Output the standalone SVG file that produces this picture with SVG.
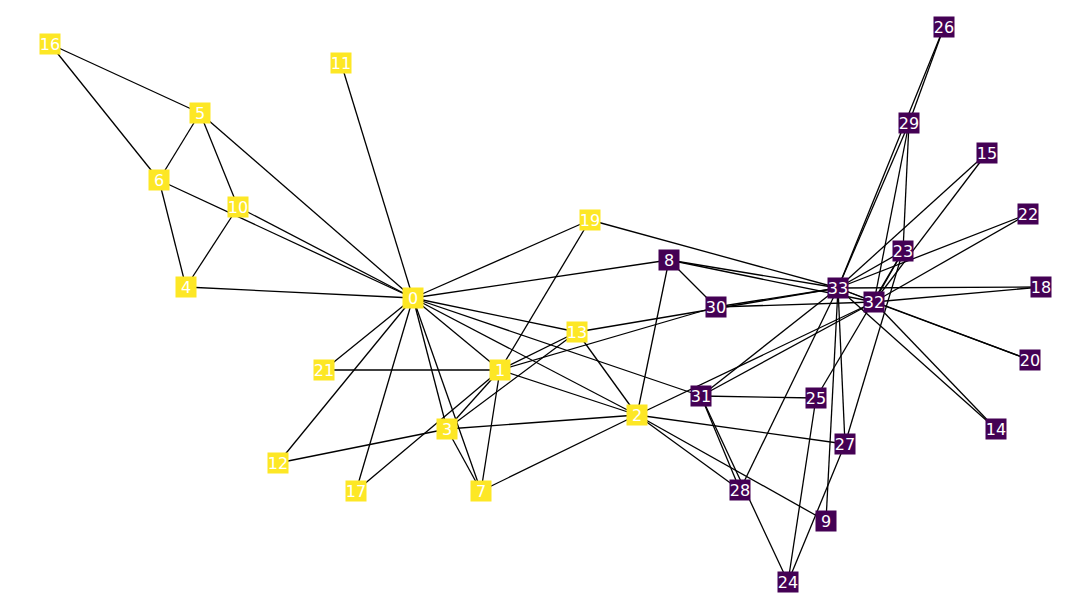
<svg xmlns="http://www.w3.org/2000/svg" width="1090" height="610" viewBox="0 0 1090 610">
<style>
.e line{stroke:#000;stroke-width:1.3}
text{font-family:"DejaVu Sans",sans-serif;font-size:16px;fill:#fff;text-anchor:middle}
</style>
<rect width="1090" height="610" fill="#fff"/>
<g class="e">
<line x1="413" y1="298" x2="500" y2="370"/>
<line x1="413" y1="298" x2="637" y2="415"/>
<line x1="413" y1="298" x2="447" y2="429"/>
<line x1="413" y1="298" x2="186" y2="287"/>
<line x1="413" y1="298" x2="200" y2="113"/>
<line x1="413" y1="298" x2="159" y2="180"/>
<line x1="413" y1="298" x2="481" y2="491"/>
<line x1="413" y1="298" x2="669" y2="260"/>
<line x1="413" y1="298" x2="238" y2="207"/>
<line x1="413" y1="298" x2="341" y2="63"/>
<line x1="413" y1="298" x2="278" y2="463"/>
<line x1="413" y1="298" x2="577" y2="332"/>
<line x1="413" y1="298" x2="356" y2="491"/>
<line x1="413" y1="298" x2="590" y2="220"/>
<line x1="413" y1="298" x2="324" y2="370"/>
<line x1="413" y1="298" x2="701" y2="396"/>
<line x1="500" y1="370" x2="637" y2="415"/>
<line x1="500" y1="370" x2="447" y2="429"/>
<line x1="500" y1="370" x2="481" y2="491"/>
<line x1="500" y1="370" x2="577" y2="332"/>
<line x1="500" y1="370" x2="356" y2="491"/>
<line x1="500" y1="370" x2="590" y2="220"/>
<line x1="500" y1="370" x2="324" y2="370"/>
<line x1="500" y1="370" x2="716" y2="307"/>
<line x1="637" y1="415" x2="447" y2="429"/>
<line x1="637" y1="415" x2="481" y2="491"/>
<line x1="637" y1="415" x2="669" y2="260"/>
<line x1="637" y1="415" x2="826" y2="521"/>
<line x1="637" y1="415" x2="577" y2="332"/>
<line x1="637" y1="415" x2="845" y2="444"/>
<line x1="637" y1="415" x2="740" y2="490"/>
<line x1="637" y1="415" x2="874" y2="302"/>
<line x1="447" y1="429" x2="481" y2="491"/>
<line x1="447" y1="429" x2="278" y2="463"/>
<line x1="447" y1="429" x2="577" y2="332"/>
<line x1="186" y1="287" x2="159" y2="180"/>
<line x1="186" y1="287" x2="238" y2="207"/>
<line x1="200" y1="113" x2="159" y2="180"/>
<line x1="200" y1="113" x2="238" y2="207"/>
<line x1="200" y1="113" x2="50" y2="44"/>
<line x1="159" y1="180" x2="50" y2="44"/>
<line x1="669" y1="260" x2="716" y2="307"/>
<line x1="669" y1="260" x2="874" y2="302"/>
<line x1="669" y1="260" x2="838" y2="288"/>
<line x1="826" y1="521" x2="838" y2="288"/>
<line x1="577" y1="332" x2="838" y2="288"/>
<line x1="996" y1="429" x2="874" y2="302"/>
<line x1="996" y1="429" x2="838" y2="288"/>
<line x1="987" y1="153" x2="874" y2="302"/>
<line x1="987" y1="153" x2="838" y2="288"/>
<line x1="1041" y1="287" x2="874" y2="302"/>
<line x1="1041" y1="287" x2="838" y2="288"/>
<line x1="590" y1="220" x2="838" y2="288"/>
<line x1="1030" y1="360" x2="874" y2="302"/>
<line x1="1030" y1="360" x2="838" y2="288"/>
<line x1="1028" y1="214" x2="874" y2="302"/>
<line x1="1028" y1="214" x2="838" y2="288"/>
<line x1="903" y1="251" x2="816" y2="398"/>
<line x1="903" y1="251" x2="845" y2="444"/>
<line x1="903" y1="251" x2="909" y2="123"/>
<line x1="903" y1="251" x2="874" y2="302"/>
<line x1="903" y1="251" x2="838" y2="288"/>
<line x1="788" y1="582" x2="816" y2="398"/>
<line x1="788" y1="582" x2="845" y2="444"/>
<line x1="788" y1="582" x2="701" y2="396"/>
<line x1="816" y1="398" x2="701" y2="396"/>
<line x1="944" y1="27" x2="909" y2="123"/>
<line x1="944" y1="27" x2="838" y2="288"/>
<line x1="845" y1="444" x2="838" y2="288"/>
<line x1="740" y1="490" x2="701" y2="396"/>
<line x1="740" y1="490" x2="838" y2="288"/>
<line x1="909" y1="123" x2="874" y2="302"/>
<line x1="909" y1="123" x2="838" y2="288"/>
<line x1="716" y1="307" x2="874" y2="302"/>
<line x1="716" y1="307" x2="838" y2="288"/>
<line x1="701" y1="396" x2="874" y2="302"/>
<line x1="701" y1="396" x2="838" y2="288"/>
<line x1="874" y1="302" x2="838" y2="288"/>
</g>
<defs>
<rect id="y" x="-10.5" y="-10.5" width="21" height="21" fill="#fde725"/>
<rect id="p" x="-10.5" y="-10.5" width="21" height="21" fill="#440154"/>
</defs>
<g id="n0" transform="translate(413,298)"><use href="#y"/><text y="5.8">0</text></g>
<g id="n1" transform="translate(500,370)"><use href="#y"/><text y="5.8">1</text></g>
<g id="n2" transform="translate(637,415)"><use href="#y"/><text y="5.8">2</text></g>
<g id="n3" transform="translate(447,429)"><use href="#y"/><text y="5.8">3</text></g>
<g id="n4" transform="translate(186,287)"><use href="#y"/><text y="5.8">4</text></g>
<g id="n5" transform="translate(200,113)"><use href="#y"/><text y="5.8">5</text></g>
<g id="n6" transform="translate(159,180)"><use href="#y"/><text y="5.8">6</text></g>
<g id="n7" transform="translate(481,491)"><use href="#y"/><text y="5.8">7</text></g>
<g id="n8" transform="translate(669,260)"><use href="#p"/><text y="5.8">8</text></g>
<g id="n9" transform="translate(826,521)"><use href="#p"/><text y="5.8">9</text></g>
<g id="n10" transform="translate(238,207)"><use href="#y"/><text y="5.8">10</text></g>
<g id="n11" transform="translate(341,63)"><use href="#y"/><text y="5.8">11</text></g>
<g id="n12" transform="translate(278,463)"><use href="#y"/><text y="5.8">12</text></g>
<g id="n13" transform="translate(577,332)"><use href="#y"/><text y="5.8">13</text></g>
<g id="n14" transform="translate(996,429)"><use href="#p"/><text y="5.8">14</text></g>
<g id="n15" transform="translate(987,153)"><use href="#p"/><text y="5.8">15</text></g>
<g id="n16" transform="translate(50,44)"><use href="#y"/><text y="5.8">16</text></g>
<g id="n17" transform="translate(356,491)"><use href="#y"/><text y="5.8">17</text></g>
<g id="n18" transform="translate(1041,287)"><use href="#p"/><text y="5.8">18</text></g>
<g id="n19" transform="translate(590,220)"><use href="#y"/><text y="5.8">19</text></g>
<g id="n20" transform="translate(1030,360)"><use href="#p"/><text y="5.8">20</text></g>
<g id="n21" transform="translate(324,370)"><use href="#y"/><text y="5.8">21</text></g>
<g id="n22" transform="translate(1028,214)"><use href="#p"/><text y="5.8">22</text></g>
<g id="n23" transform="translate(903,251)"><use href="#p"/><text y="5.8">23</text></g>
<g id="n24" transform="translate(788,582)"><use href="#p"/><text y="5.8">24</text></g>
<g id="n25" transform="translate(816,398)"><use href="#p"/><text y="5.8">25</text></g>
<g id="n26" transform="translate(944,27)"><use href="#p"/><text y="5.8">26</text></g>
<g id="n27" transform="translate(845,444)"><use href="#p"/><text y="5.8">27</text></g>
<g id="n28" transform="translate(740,490)"><use href="#p"/><text y="5.8">28</text></g>
<g id="n29" transform="translate(909,123)"><use href="#p"/><text y="5.8">29</text></g>
<g id="n30" transform="translate(716,307)"><use href="#p"/><text y="5.8">30</text></g>
<g id="n31" transform="translate(701,396)"><use href="#p"/><text y="5.8">31</text></g>
<g id="n32" transform="translate(874,302)"><use href="#p"/><text y="5.8">32</text></g>
<g id="n33" transform="translate(838,288)"><use href="#p"/><text y="5.8">33</text></g>
</svg>
